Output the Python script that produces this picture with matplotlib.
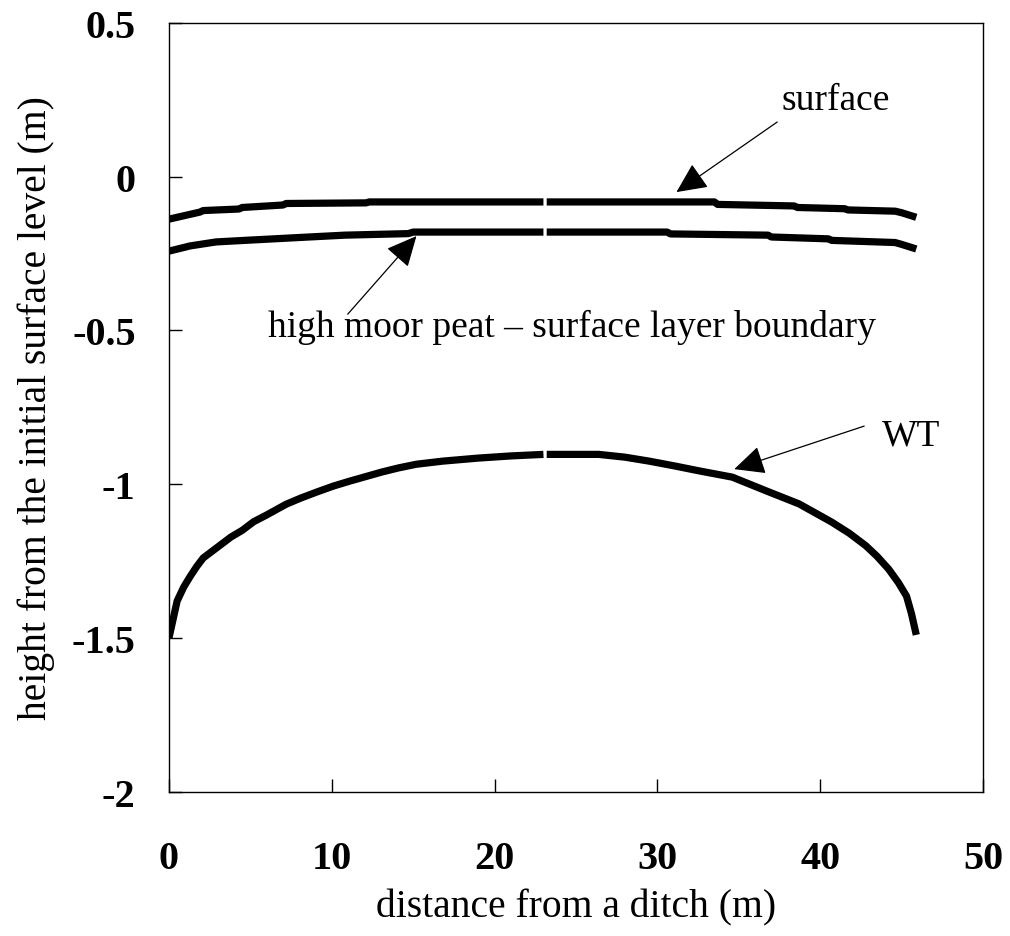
import matplotlib
matplotlib.use("Agg")
import matplotlib.pyplot as plt

# ---- data ----
surface_left_x = [0, 1.9, 2.1, 4.3, 4.5, 7.0, 7.2, 12.1, 12.3, 23.0]
surface_left_y = [-0.138, -0.115, -0.110, -0.105, -0.100, -0.092, -0.087, -0.085, -0.082, -0.082]
surface_right_x = [23.2, 33.5, 33.7, 38.4, 38.6, 41.5, 41.7, 44.6, 45.0, 45.9]
surface_right_y = [-0.082, -0.082, -0.090, -0.095, -0.100, -0.104, -0.108, -0.112, -0.117, -0.132]

boundary_left_x = [0, 1.3, 2.9, 5.0, 8.6, 10.8, 14.7, 15.0, 23.0]
boundary_left_y = [-0.242, -0.225, -0.212, -0.206, -0.196, -0.190, -0.185, -0.180, -0.180]
boundary_right_x = [23.2, 30.6, 30.8, 36.8, 37.0, 40.5, 40.7, 44.6, 45.0, 45.9]
boundary_right_y = [-0.180, -0.180, -0.186, -0.190, -0.196, -0.202, -0.207, -0.214, -0.220, -0.235]

wt_left_x = [0, 0.25, 0.5, 0.9, 1.3, 1.7, 2.1, 2.6, 3.1, 3.8, 4.5, 5.2, 6.0, 7.2, 8.1, 9.1,
             10.1, 11.1, 12.1, 13.1, 14.1, 15.2, 16.8, 19.0, 21.0, 23.0]
wt_left_y = [-1.50, -1.44, -1.38, -1.335, -1.30, -1.268, -1.24, -1.22, -1.20, -1.172, -1.15,
             -1.122, -1.10, -1.065, -1.045, -1.025, -1.006, -0.99, -0.975, -0.96, -0.947,
             -0.935, -0.925, -0.915, -0.908, -0.903]
wt_right_x = [23.2, 26.4, 28.0, 29.5, 31.0, 32.6, 34.6, 36.7, 38.7, 40.7, 41.8, 42.8, 43.5,
              44.2, 44.8, 45.3, 45.6, 45.9]
wt_right_y = [-0.903, -0.903, -0.912, -0.925, -0.94, -0.957, -0.977, -1.022, -1.064, -1.123,
              -1.16, -1.20, -1.235, -1.276, -1.32, -1.364, -1.42, -1.49]

x_ticks = [0, 10, 20, 30, 40, 50]
y_ticks = [0.5, 0, -0.5, -1, -1.5, -2]
y_tick_labels = ["0.5", "0", "-0.5", "-1", "-1.5", "-2"]

plt.rcParams['font.family'] = ['Liberation Serif', 'DejaVu Serif']

fig = plt.figure(figsize=(10.10, 9.37), dpi=100)
ax = fig.add_axes([0.1673, 0.1540, 0.8060, 0.8204])

line_kw = dict(color='black', lw=5.2, solid_capstyle='butt', solid_joinstyle='round')
for xs, ys in [(surface_left_x, surface_left_y), (surface_right_x, surface_right_y),
               (boundary_left_x, boundary_left_y), (boundary_right_x, boundary_right_y),
               (wt_left_x, wt_left_y), (wt_right_x, wt_right_y)]:
    ax.plot(xs, ys, **line_kw)

ax.set_xlim(0, 50)
ax.set_ylim(-2, 0.5)
ax.set_xticks(x_ticks)
ax.set_xticklabels([str(v) for v in x_ticks])
ax.set_yticks(y_ticks)
ax.set_yticklabels(y_tick_labels)

ax.tick_params(axis='both', direction='in', length=9.5, width=1.0,
               labelsize=29, top=False, right=False)
ax.tick_params(axis='x', pad=35)
ax.tick_params(axis='y', pad=24)
for lab in ax.get_xticklabels() + ax.get_yticklabels():
    lab.set_fontweight('bold')
for sp in ax.spines.values():
    sp.set_linewidth(1.0)

ax.set_xlabel("distance from a ditch (m)", fontsize=28.5, labelpad=8)
ax.set_ylabel("height from the initial surface level (m)", fontsize=28.5, labelpad=12)

arrow_kw = dict(arrowstyle='-|>,head_length=0.95,head_width=0.45', color='black',
                lw=0.9, mutation_scale=20, shrinkA=0, shrinkB=0)

ax.annotate("", xy=(31.17, -0.050), xytext=(37.36, 0.178), arrowprops=arrow_kw)
ax.text(37.6, 0.220, "surface", fontsize=27, ha='left', va='baseline')

ax.annotate("", xy=(15.2, -0.193), xytext=(10.98, -0.447), arrowprops=arrow_kw)
ax.text(6.07, -0.518, "high moor peat \u2013 surface layer boundary", fontsize=27,
        ha='left', va='baseline')

ax.annotate("", xy=(34.72, -0.951), xytext=(42.7, -0.811), arrowprops=arrow_kw)
ax.text(43.8, -0.870, "WT", fontsize=27, ha='left', va='baseline')

fig.savefig("out.png", dpi=100)
